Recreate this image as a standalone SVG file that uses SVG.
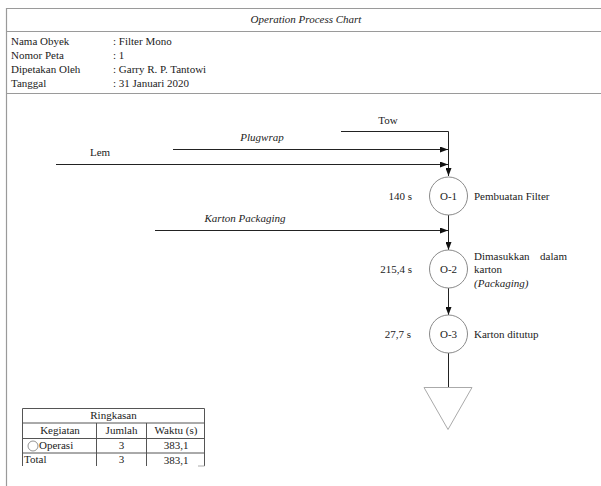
<svg xmlns="http://www.w3.org/2000/svg" width="601" height="486" viewBox="0 0 601 486">
<style>
text{font-family:'Liberation Serif','Times New Roman',Tinos,'DejaVu Serif',serif;font-size:11px;fill:#222}
.it{font-style:italic}
.frame{stroke:#9a9a9a;stroke-width:1.2;fill:none}
.ln{stroke:#222;stroke-width:1;fill:none}
.op{stroke:#8a8a8a;stroke-width:1;fill:#fff}
.tb{stroke:#555;stroke-width:1;fill:none}
.mid{text-anchor:middle}
.end{text-anchor:end}
</style>
<defs>
<marker id="ah" viewBox="0 0 8 6" refX="8" refY="3" markerWidth="8" markerHeight="6" markerUnits="userSpaceOnUse" orient="auto">
<path d="M0,0 L8,3 L0,6 Z" fill="#111"/>
</marker>
</defs>
<rect width="601" height="486" fill="#fff"/>
<g id="header">
<path class="frame" d="M6.5,486 V8.5 H601 M6.5,31.5 H601 M6.5,93.5 H601"/>
<text class="it mid" x="306" y="23">Operation Process Chart</text>
<text x="11" y="45">Nama Obyek</text><text x="113" y="45">: Filter Mono</text>
<text x="11" y="59">Nomor Peta</text><text x="113" y="59">: 1</text>
<text x="11" y="73">Dipetakan Oleh</text><text x="113" y="73">: Garry R. P. Tantowi</text>
<text x="11" y="87">Tanggal</text><text x="113" y="87">: 31 Januari 2020</text>
</g>
<g id="connectors">
<path class="ln" d="M341,131.5 H448.5 V176" marker-end="url(#ah)"/>
<path class="ln" d="M173,149.5 H448" marker-end="url(#ah)"/>
<path class="ln" d="M56,164.5 H448" marker-end="url(#ah)"/>
<path class="ln" d="M155,230.5 H448" marker-end="url(#ah)"/>
<path class="ln" d="M448.5,215 V250" marker-end="url(#ah)"/>
<path class="ln" d="M448.5,288 V315" marker-end="url(#ah)"/>
<path class="ln" d="M448.5,353 V387.5"/>
</g>
<g id="labels-in">
<text class="mid" x="388" y="124">Tow</text>
<text class="it mid" x="262" y="141">Plugwrap</text>
<text x="90" y="156">Lem</text>
<text class="it mid" x="245" y="222">Karton Packaging</text>
</g>
<g id="O-1">
<circle class="op" cx="448.5" cy="196" r="19"/>
<text class="mid" x="448.5" y="200">O-1</text>
<text class="end" x="412" y="200">140 s</text>
<text x="474" y="200">Pembuatan Filter</text>
</g>
<g id="O-2">
<circle class="op" cx="448.5" cy="269" r="19"/>
<text class="mid" x="448.5" y="273">O-2</text>
<text class="end" x="412" y="273">215,4 s</text>
<text x="474" y="260">Dimasukkan</text><text class="end" x="567" y="260">dalam</text>
<text x="474" y="273">karton</text>
<text class="it" x="474" y="287">(Packaging)</text>
</g>
<g id="O-3">
<circle class="op" cx="448.5" cy="334" r="19"/>
<text class="mid" x="448.5" y="338">O-3</text>
<text class="end" x="411" y="338">27,7 s</text>
<text x="474" y="338">Karton ditutup</text>
</g>
<g id="storage">
<path d="M424,387.5 H472 L448,429.5 Z" fill="#fff" stroke="#aaa" stroke-width="1"/>
</g>
<g id="summary">
<path class="tb" d="M22.5,466 V408.5 H204.5 V466 M22.5,423 H204.5 M22.5,438.5 H204.5 M22.5,453 H204.5 M96.5,423 V466 M146.5,423 V466"/>
<path d="M198,466 H204.5" stroke="#aaa" stroke-width="1"/>
<text class="mid" x="113.5" y="419">Ringkasan</text>
<text class="mid" x="60" y="434">Kegiatan</text>
<text class="mid" x="121.5" y="434">Jumlah</text>
<text class="mid" x="176" y="434">Waktu (s)</text>
<circle cx="33" cy="446" r="5" fill="none" stroke="#777" stroke-width="0.8"/>
<text x="39" y="449">Operasi</text>
<text class="mid" x="121.5" y="449">3</text>
<text class="mid" x="176" y="449">383,1</text>
<text x="24" y="463">Total</text>
<text class="mid" x="121.5" y="463">3</text>
<text class="mid" x="176" y="464">383,1</text>
</g>
</svg>
